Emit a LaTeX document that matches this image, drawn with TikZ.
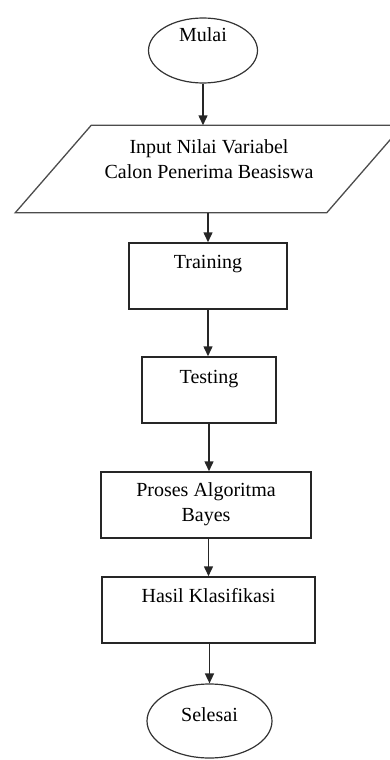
\documentclass[tikz,border=0pt]{standalone}
\usepackage{fontspec}
\setmainfont{Liberation Serif}
\usetikzlibrary{arrows.meta, shapes.geometric}
\tikzset{
  every picture/.style={line width=1.5pt},
  kotak/.style={draw=black!85, rectangle, minimum height=66pt, inner sep=0pt},
  oval/.style={draw=black!80, ellipse, line width=1.2pt, inner sep=0pt},
  jajar/.style={draw=black!70, line width=1.3pt},
  teks/.style={anchor=north, inner sep=0pt, align=center, font=\fontsize{20}{25}\selectfont},
  panah/.style={-{Triangle[length=10pt, width=9pt]}, draw=black!85},
}

\begin{document}
\begin{tikzpicture}[x=1pt, y=-1pt]
  \clip (0,0) rectangle (390,760);
  \node[oval, minimum width=109pt, minimum height=65pt, label={[teks, yshift=-9pt]north:Mulai}] (mulai) at (203,50.5) {};
  \node[rectangle, inner sep=0pt, minimum width=310pt, minimum height=86pt,
    label={[teks, yshift=-14pt]north:{Input Nilai Variabel\\Calon Penerima Beasiswa}}] (input) at (209,169) {};
  \draw[jajar] ([xshift=-38pt]input.south west) -- ([xshift=38pt]input.north west)
    -- ([xshift=38pt]input.north east) -- ([xshift=-38pt]input.south east) -- cycle;
  \node[kotak, minimum width=158pt, label={[teks, yshift=-12pt]north:Training}] (training) at (208,276) {};
  \node[kotak, minimum width=134pt, label={[teks, yshift=-13pt]north:Testing}] (testing) at (209,390) {};
  \node[kotak, minimum width=210pt, label={[teks, yshift=-11pt]north:{Proses Algoritma\\Bayes}}] (proses) at (206,505) {};
  \node[kotak, minimum width=213pt, label={[teks, yshift=-11pt]north:Hasil Klasifikasi}] (hasil) at (208.5,610) {};
  \node[oval, minimum width=125pt, minimum height=74pt, label={[teks, yshift=-23pt]north:Selesai}] (selesai) at (209.5,721) {};
  % panah alur
  \draw[panah] (mulai.south) -- (mulai.south |- input.north);
  \draw[panah] (input.south -| training.north) -- (training.north);
  \draw[panah] (training.south) -- (training.south |- testing.north);
  \draw[panah] (testing.south) -- (testing.south |- proses.north);
  \draw[panah] (proses.south -| hasil.north) -- (hasil.north);
  \draw[panah] (hasil.south -| selesai.north) -- (selesai.north);
\end{tikzpicture}
\end{document}
